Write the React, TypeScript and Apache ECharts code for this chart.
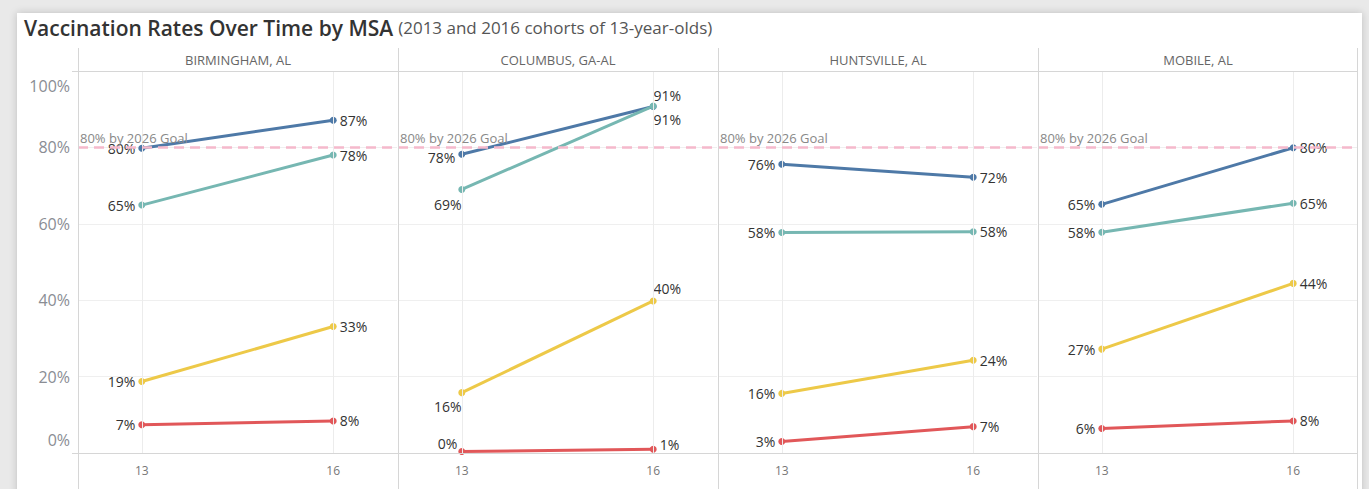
import React, { useEffect, useRef } from "react";
import * as echarts from "echarts";

// ---- Data ----
const cohortAges = [13, 16];
const msaNames = ["BIRMINGHAM, AL", "COLUMBUS, GA-AL", "HUNTSVILLE, AL", "MOBILE, AL"];
const yTicks = [0, 20, 40, 60, 80, 100];
const goalValue = 80;
const goalLabel = "80% by 2026 Goal";

// values per MSA: [age 13, age 16]
const blueValues = [[79.8, 87.1], [78.2, 90.7], [75.6, 72.2], [65.1, 79.9]];
const tealValues = [[64.9, 78.0], [69.0, 90.8], [57.7, 57.9], [57.8, 65.4]];
const yellowValues = [[18.7, 33.1], [15.8, 39.8], [15.6, 24.3], [27.2, 44.4]];
const redValues = [[7.4, 8.4], [0.4, 1.0], [3.0, 6.9], [6.4, 8.4]];

const seriesDefs = [
  { name: "Blue", color: "#4e79a7", values: blueValues },
  { name: "Teal", color: "#76b7b2", values: tealValues },
  { name: "Yellow", color: "#edc948", values: yellowValues },
  { name: "Red", color: "#e15759", values: redValues },
];

// label placement overrides: key `${panel}-${series}-${point}`
const labelOverrides: Record<string, any> = {
  "1-0-0": { position: "left", offset: [0, 3] },
  "1-1-0": { position: "bottom", offset: [-14, 2] },
  "1-0-1": { position: "top", offset: [14, 2] },
  "1-1-1": { position: "bottom", offset: [14, 0] },
  "1-2-0": { position: "bottom", offset: [-14, 0] },
  "1-2-1": { position: "top", offset: [14, 1] },
  "1-3-0": { position: "left", offset: [2, -8] },
  "1-3-1": { position: "right", offset: [0, -5] },
};

const FONT = "'Open Sans', sans-serif";
const PANEL_LEFT = 78;
const PANEL_W = 320;
const TOP = 71;
const BOTTOM_Y = 453;

export default function App() {
  const ref = useRef<HTMLDivElement>(null);

  useEffect(() => {
    if (!ref.current) return;
    const chart = echarts.init(ref.current, undefined, { renderer: "svg" });

    const grids: any[] = [];
    const xAxes: any[] = [];
    const yAxes: any[] = [];
    const series: any[] = [];
    const graphics: any[] = [];

    msaNames.forEach((name, p) => {
      grids.push({
        left: PANEL_LEFT + PANEL_W * p,
        top: TOP,
        width: PANEL_W - 1,
        height: BOTTOM_Y - TOP,
        containLabel: false,
      });
      xAxes.push({
        type: "value",
        gridIndex: p,
        min: 12,
        max: 17,
        interval: 1,
        axisLine: { show: false },
        axisTick: { show: false },
        splitLine: { show: false },
        axisLabel: {
          margin: 11,
          fontFamily: FONT,
          fontSize: 12,
          color: "#777",
          formatter: (v: number) => (cohortAges.includes(v) ? String(v) : ""),
        },
      });
      yAxes.push({
        type: "value",
        gridIndex: p,
        min: yTicks[0],
        max: yTicks[yTicks.length - 1],
        interval: 20,
        axisLine: { show: false },
        axisTick: { show: false },
        splitLine: { show: true, lineStyle: { color: "#efefef", width: 1 } },
        axisLabel: {
          show: p === 0,
          showMinLabel: false,
          showMaxLabel: false,
          margin: 8,
          fontFamily: FONT,
          fontSize: 16,
          color: "#8a8d94",
          formatter: (v: number) => `${v}%`,
        },
      });

      // reference series: vertical gridlines + goal line
      series.push({
        type: "line",
        xAxisIndex: p,
        yAxisIndex: p,
        data: [],
        silent: true,
        z: 1,
        markLine: {
          silent: true,
          symbol: "none",
          label: { show: false },
          lineStyle: { color: "#ececec", width: 1, type: "solid" },
          data: cohortAges.map((a) => ({ xAxis: a })),
        },
      });
      series.push({
        type: "line",
        xAxisIndex: p,
        yAxisIndex: p,
        data: [],
        silent: true,
        z: 5,
        markLine: {
          silent: true,
          symbol: "none",
          lineStyle: { color: "#f5b9cc", width: 2.5, type: [10, 6] },
          label: {
            show: true,
            position: "insideStartTop",
            formatter: goalLabel,
            fontFamily: FONT,
            fontSize: 13,
            color: "#888",
            distance: [2, 3],
          },
          data: [{ yAxis: goalValue }],
        },
      });

      seriesDefs.forEach((sd, s) => {
        const vals = sd.values[p];
        series.push({
          type: "line",
          name: sd.name,
          xAxisIndex: p,
          yAxisIndex: p,
          z: 3,
          symbol: "circle",
          symbolSize: 7,
          lineStyle: { color: sd.color, width: 3 },
          itemStyle: { color: sd.color },
          data: cohortAges.map((age, i) => {
            const ov = labelOverrides[`${p}-${s}-${i}`];
            return {
              value: [age, vals[i]],
              label: {
                show: true,
                position: ov ? ov.position : i === 0 ? "left" : "right",
                offset: ov ? ov.offset : [0, 0],
                distance: 3,
                fontFamily: FONT,
                fontSize: 14,
                color: "#333",
                formatter: (prm: any) => `${Math.round(prm.value[1])}%`,
              },
            };
          }),
        });
      });

      graphics.push({
        type: "text",
        x: PANEL_LEFT + PANEL_W * p + PANEL_W / 2,
        y: 60,
        style: {
          text: name,
          align: "center",
          verticalAlign: "middle",
          fontFamily: FONT,
          fontSize: 13,
          fill: "#666",
        },
      });
    });

    // top / bottom y tick labels, nudged inside the plot like the reference
    graphics.push({
      type: "text",
      x: 70,
      y: 86,
      style: {
        text: `${yTicks[yTicks.length - 1]}%`,
        align: "right",
        verticalAlign: "middle",
        fontFamily: FONT,
        fontSize: 16,
        fill: "#8a8d94",
      },
    });
    graphics.push({
      type: "text",
      x: 70,
      y: 440,
      style: {
        text: `${yTicks[0]}%`,
        align: "right",
        verticalAlign: "middle",
        fontFamily: FONT,
        fontSize: 16,
        fill: "#8a8d94",
      },
    });

    // panel borders
    for (let i = 0; i <= msaNames.length; i++) {
      const x = PANEL_LEFT + PANEL_W * i - (i === msaNames.length ? 1 : 0);
      graphics.push({
        type: "line",
        shape: { x1: x + 0.5, y1: 48, x2: x + 0.5, y2: 489 },
        style: { stroke: "#d6d6d6", lineWidth: 1 },
        z: 10,
      });
    }
    graphics.push({
      type: "line",
      shape: { x1: 72, y1: TOP + 0.5, x2: PANEL_LEFT + PANEL_W * 4, y2: TOP + 0.5 },
      style: { stroke: "#d6d6d6", lineWidth: 1 },
      z: 10,
    });
    graphics.push({
      type: "line",
      shape: { x1: 72, y1: BOTTOM_Y + 0.5, x2: PANEL_LEFT + PANEL_W * 4, y2: BOTTOM_Y + 0.5 },
      style: { stroke: "#d6d6d6", lineWidth: 1 },
      z: 10,
    });

    chart.setOption({
      animation: false,
      title: {
        left: 19,
        top: 12,
        text: "{a|Vaccination Rates Over Time by MSA} {b|(2013 and 2016 cohorts of 13-year-olds)}",
        textStyle: {
          fontWeight: "normal",
          rich: {
            a: { fontFamily: FONT, fontSize: 21, fontWeight: 600, color: "#333" },
            b: { fontFamily: FONT, fontSize: 17, fontWeight: "normal", color: "#555" },
          },
        },
      },
      grid: grids,
      xAxis: xAxes,
      yAxis: yAxes,
      series,
      graphic: graphics,
    });

    return () => chart.dispose();
  }, []);

  return (
    <div style={{ position: "fixed", left: 0, top: 0, width: 1369, height: 489, background: "#e9e9e9", overflow: "hidden" }}>
      <div
        style={{
          position: "absolute",
          left: 17,
          top: 13,
          width: 1345,
          height: 490,
          background: "#fff",
          boxShadow: "0 0 8px rgba(0,0,0,0.18)",
        }}
      />
      <div ref={ref} style={{ position: "absolute", left: 0, top: 0, width: 1369, height: 489 }} />
    </div>
  );
}
